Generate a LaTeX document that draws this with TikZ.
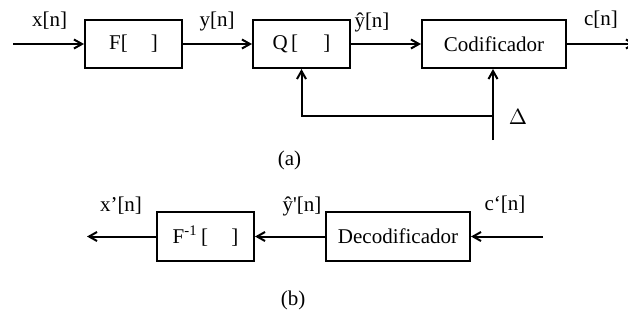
\documentclass[tikz,border=0pt]{standalone}
\usepackage{fontspec}
\setmainfont{Liberation Serif}
\usetikzlibrary{arrows.meta,positioning,calc}

\begin{document}
\begin{tikzpicture}[x=0.5pt, y=-0.5pt,
    blk/.style={draw, line width=1pt, minimum height=24pt, inner sep=0pt},
    sig/.style={line width=1pt, -{Straight Barb[length=4pt, width=4.5pt]}},
    lbl/.style={inner sep=0pt}]
    \useasboundingbox (0,0) rectangle (628,322);
    \fontsize{10.5}{12}\selectfont
    % coder, part (a)
    \node[blk, minimum width=48.5pt] (F) at (133.5,44) {F[\hspace{1.1em}]};
    \node[blk, minimum width=48.5pt] (Q) at (301.5,44) {Q\,[\hspace{1.2em}]};
    \node[blk, minimum width=72pt] (cod) at (494,44) {Codificador};
    \coordinate (xin) at (13,44);
    \coordinate (cout) at (636,44);
    \coordinate (dbot) at (493,140);
    \coordinate (djoin) at (493,116);

    \draw[sig] (xin) -- (F);
    \draw[sig] (F) -- (Q);
    \draw[sig] (Q) -- (cod);
    \draw[sig] (cod) -- (cout);
    \draw[sig] (dbot) -- (dbot |- cod.south);
    \draw[sig] (djoin) -- (Q.south |- djoin) -- (Q.south);

    \node[lbl] at (49.5,21) {x[n]};
    \node[lbl] at (217,21) {y[n]};
    \node[lbl] at (372,22) {ŷ[n]};
    \node[lbl] at (601,20) {c[n]};
    \node[lbl] at (518,117) {$\Delta$};
    \node[lbl] at (289.5,160) {(a)};

    % decoder, part (b)
    \node[blk, minimum width=48.5pt, minimum height=24.5pt] (Finv) at (205.5,236.5) {F\textsuperscript{-1}\,[\hspace{1.1em}]};
    \node[blk, minimum width=72pt, minimum height=24.5pt] (dec) at (398,236.5) {Decodificador};
    \coordinate (cin) at (543,236.5);
    \coordinate (xout) at (87,236.5);

    \draw[sig] (cin) -- (dec);
    \draw[sig] (dec) -- (Finv);
    \draw[sig] (Finv) -- (xout);

    \node[lbl] at (121,206) {x’[n]};
    \node[lbl] at (302,206) {ŷ\textquotesingle[n]};
    \node[lbl] at (505,205) {c‘[n]};
    \node[lbl] at (293,300) {(b)};
\end{tikzpicture}
\end{document}
